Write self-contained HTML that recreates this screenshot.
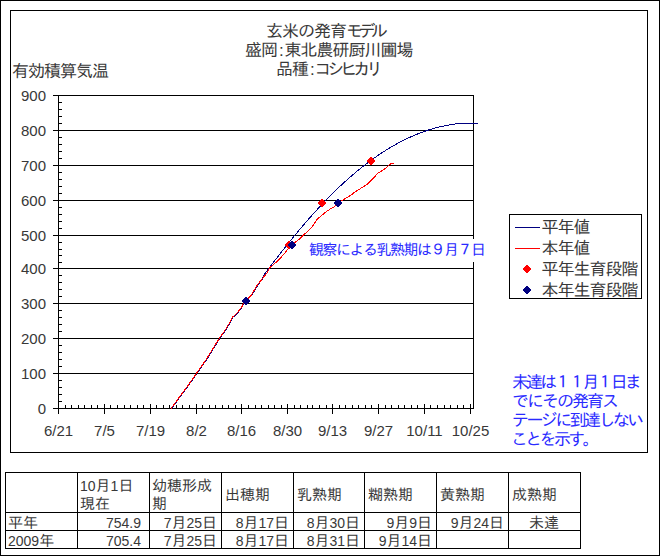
<!DOCTYPE html>
<html><head><meta charset="utf-8"><style>
html,body{margin:0;padding:0;background:#fff;}
body{width:660px;height:556px;position:relative;overflow:hidden;}
svg{position:absolute;left:0;top:0;}
.t{position:absolute;white-space:nowrap;font-family:"Liberation Sans", "IPAGothic", "Noto Sans CJK JP", sans-serif;color:#383838;}
.n{font-family:"Liberation Sans",sans-serif;font-size:14px;}
</style></head><body>
<svg width="660" height="556" viewBox="0 0 660 556">
<rect x="0.5" y="0.5" width="659" height="555" fill="none" stroke="#000"/>
<rect x="10.5" y="10.5" width="637" height="442" fill="none" stroke="#000"/>
<line x1="53" y1="95.5" x2="474" y2="95.5" stroke="#000" stroke-width="1"/>
<line x1="53" y1="130.5" x2="474" y2="130.5" stroke="#000" stroke-width="1"/>
<line x1="53" y1="165.5" x2="474" y2="165.5" stroke="#000" stroke-width="1"/>
<line x1="53" y1="200.5" x2="474" y2="200.5" stroke="#000" stroke-width="1"/>
<line x1="53" y1="235.5" x2="474" y2="235.5" stroke="#000" stroke-width="1"/>
<line x1="53" y1="268.5" x2="474" y2="268.5" stroke="#000" stroke-width="1"/>
<line x1="53" y1="303.5" x2="474" y2="303.5" stroke="#000" stroke-width="1"/>
<line x1="53" y1="338.5" x2="474" y2="338.5" stroke="#000" stroke-width="1"/>
<line x1="53" y1="373.5" x2="474" y2="373.5" stroke="#000" stroke-width="1"/>
<line x1="53" y1="408.5" x2="474" y2="408.5" stroke="#000" stroke-width="1"/>
<line x1="473.5" y1="95" x2="473.5" y2="409" stroke="#000" stroke-width="1"/>
<line x1="58.5" y1="95" x2="58.5" y2="409" stroke="#000" stroke-width="1"/>
<line x1="59" y1="380.5" x2="62" y2="380.5" stroke="#000" stroke-width="1"/>
<line x1="59" y1="387.5" x2="62" y2="387.5" stroke="#000" stroke-width="1"/>
<line x1="59" y1="394.5" x2="62" y2="394.5" stroke="#000" stroke-width="1"/>
<line x1="59" y1="401.5" x2="62" y2="401.5" stroke="#000" stroke-width="1"/>
<line x1="59" y1="345.5" x2="62" y2="345.5" stroke="#000" stroke-width="1"/>
<line x1="59" y1="352.5" x2="62" y2="352.5" stroke="#000" stroke-width="1"/>
<line x1="59" y1="359.5" x2="62" y2="359.5" stroke="#000" stroke-width="1"/>
<line x1="59" y1="366.5" x2="62" y2="366.5" stroke="#000" stroke-width="1"/>
<line x1="59" y1="310.5" x2="62" y2="310.5" stroke="#000" stroke-width="1"/>
<line x1="59" y1="317.5" x2="62" y2="317.5" stroke="#000" stroke-width="1"/>
<line x1="59" y1="324.5" x2="62" y2="324.5" stroke="#000" stroke-width="1"/>
<line x1="59" y1="331.5" x2="62" y2="331.5" stroke="#000" stroke-width="1"/>
<line x1="59" y1="275.5" x2="62" y2="275.5" stroke="#000" stroke-width="1"/>
<line x1="59" y1="282.5" x2="62" y2="282.5" stroke="#000" stroke-width="1"/>
<line x1="59" y1="289.5" x2="62" y2="289.5" stroke="#000" stroke-width="1"/>
<line x1="59" y1="296.5" x2="62" y2="296.5" stroke="#000" stroke-width="1"/>
<line x1="59" y1="242.5" x2="62" y2="242.5" stroke="#000" stroke-width="1"/>
<line x1="59" y1="249.5" x2="62" y2="249.5" stroke="#000" stroke-width="1"/>
<line x1="59" y1="255.5" x2="62" y2="255.5" stroke="#000" stroke-width="1"/>
<line x1="59" y1="262.5" x2="62" y2="262.5" stroke="#000" stroke-width="1"/>
<line x1="59" y1="207.5" x2="62" y2="207.5" stroke="#000" stroke-width="1"/>
<line x1="59" y1="214.5" x2="62" y2="214.5" stroke="#000" stroke-width="1"/>
<line x1="59" y1="221.5" x2="62" y2="221.5" stroke="#000" stroke-width="1"/>
<line x1="59" y1="228.5" x2="62" y2="228.5" stroke="#000" stroke-width="1"/>
<line x1="59" y1="172.5" x2="62" y2="172.5" stroke="#000" stroke-width="1"/>
<line x1="59" y1="179.5" x2="62" y2="179.5" stroke="#000" stroke-width="1"/>
<line x1="59" y1="186.5" x2="62" y2="186.5" stroke="#000" stroke-width="1"/>
<line x1="59" y1="193.5" x2="62" y2="193.5" stroke="#000" stroke-width="1"/>
<line x1="59" y1="137.5" x2="62" y2="137.5" stroke="#000" stroke-width="1"/>
<line x1="59" y1="144.5" x2="62" y2="144.5" stroke="#000" stroke-width="1"/>
<line x1="59" y1="151.5" x2="62" y2="151.5" stroke="#000" stroke-width="1"/>
<line x1="59" y1="158.5" x2="62" y2="158.5" stroke="#000" stroke-width="1"/>
<line x1="59" y1="102.5" x2="62" y2="102.5" stroke="#000" stroke-width="1"/>
<line x1="59" y1="109.5" x2="62" y2="109.5" stroke="#000" stroke-width="1"/>
<line x1="59" y1="116.5" x2="62" y2="116.5" stroke="#000" stroke-width="1"/>
<line x1="59" y1="123.5" x2="62" y2="123.5" stroke="#000" stroke-width="1"/>
<line x1="58.5" y1="404" x2="58.5" y2="414" stroke="#000" stroke-width="1"/>
<line x1="104.5" y1="404" x2="104.5" y2="414" stroke="#000" stroke-width="1"/>
<line x1="150.5" y1="404" x2="150.5" y2="414" stroke="#000" stroke-width="1"/>
<line x1="196.5" y1="404" x2="196.5" y2="414" stroke="#000" stroke-width="1"/>
<line x1="241.5" y1="404" x2="241.5" y2="414" stroke="#000" stroke-width="1"/>
<line x1="287.5" y1="404" x2="287.5" y2="414" stroke="#000" stroke-width="1"/>
<line x1="332.5" y1="404" x2="332.5" y2="414" stroke="#000" stroke-width="1"/>
<line x1="378.5" y1="404" x2="378.5" y2="414" stroke="#000" stroke-width="1"/>
<line x1="424.5" y1="404" x2="424.5" y2="414" stroke="#000" stroke-width="1"/>
<line x1="470.5" y1="404" x2="470.5" y2="414" stroke="#000" stroke-width="1"/>
<line x1="65.5" y1="405" x2="65.5" y2="408" stroke="#000" stroke-width="1"/>
<line x1="71.5" y1="405" x2="71.5" y2="408" stroke="#000" stroke-width="1"/>
<line x1="78.5" y1="405" x2="78.5" y2="408" stroke="#000" stroke-width="1"/>
<line x1="84.5" y1="405" x2="84.5" y2="408" stroke="#000" stroke-width="1"/>
<line x1="91.5" y1="405" x2="91.5" y2="408" stroke="#000" stroke-width="1"/>
<line x1="97.5" y1="405" x2="97.5" y2="408" stroke="#000" stroke-width="1"/>
<line x1="110.5" y1="405" x2="110.5" y2="408" stroke="#000" stroke-width="1"/>
<line x1="117.5" y1="405" x2="117.5" y2="408" stroke="#000" stroke-width="1"/>
<line x1="124.5" y1="405" x2="124.5" y2="408" stroke="#000" stroke-width="1"/>
<line x1="130.5" y1="405" x2="130.5" y2="408" stroke="#000" stroke-width="1"/>
<line x1="137.5" y1="405" x2="137.5" y2="408" stroke="#000" stroke-width="1"/>
<line x1="143.5" y1="405" x2="143.5" y2="408" stroke="#000" stroke-width="1"/>
<line x1="156.5" y1="405" x2="156.5" y2="408" stroke="#000" stroke-width="1"/>
<line x1="163.5" y1="405" x2="163.5" y2="408" stroke="#000" stroke-width="1"/>
<line x1="169.5" y1="405" x2="169.5" y2="408" stroke="#000" stroke-width="1"/>
<line x1="176.5" y1="405" x2="176.5" y2="408" stroke="#000" stroke-width="1"/>
<line x1="182.5" y1="405" x2="182.5" y2="408" stroke="#000" stroke-width="1"/>
<line x1="189.5" y1="405" x2="189.5" y2="408" stroke="#000" stroke-width="1"/>
<line x1="202.5" y1="405" x2="202.5" y2="408" stroke="#000" stroke-width="1"/>
<line x1="209.5" y1="405" x2="209.5" y2="408" stroke="#000" stroke-width="1"/>
<line x1="215.5" y1="405" x2="215.5" y2="408" stroke="#000" stroke-width="1"/>
<line x1="222.5" y1="405" x2="222.5" y2="408" stroke="#000" stroke-width="1"/>
<line x1="228.5" y1="405" x2="228.5" y2="408" stroke="#000" stroke-width="1"/>
<line x1="235.5" y1="405" x2="235.5" y2="408" stroke="#000" stroke-width="1"/>
<line x1="248.5" y1="405" x2="248.5" y2="408" stroke="#000" stroke-width="1"/>
<line x1="255.5" y1="405" x2="255.5" y2="408" stroke="#000" stroke-width="1"/>
<line x1="261.5" y1="405" x2="261.5" y2="408" stroke="#000" stroke-width="1"/>
<line x1="268.5" y1="405" x2="268.5" y2="408" stroke="#000" stroke-width="1"/>
<line x1="274.5" y1="405" x2="274.5" y2="408" stroke="#000" stroke-width="1"/>
<line x1="281.5" y1="405" x2="281.5" y2="408" stroke="#000" stroke-width="1"/>
<line x1="294.5" y1="405" x2="294.5" y2="408" stroke="#000" stroke-width="1"/>
<line x1="300.5" y1="405" x2="300.5" y2="408" stroke="#000" stroke-width="1"/>
<line x1="307.5" y1="405" x2="307.5" y2="408" stroke="#000" stroke-width="1"/>
<line x1="312.5" y1="405" x2="312.5" y2="408" stroke="#000" stroke-width="1"/>
<line x1="319.5" y1="405" x2="319.5" y2="408" stroke="#000" stroke-width="1"/>
<line x1="326.5" y1="405" x2="326.5" y2="408" stroke="#000" stroke-width="1"/>
<line x1="339.5" y1="405" x2="339.5" y2="408" stroke="#000" stroke-width="1"/>
<line x1="345.5" y1="405" x2="345.5" y2="408" stroke="#000" stroke-width="1"/>
<line x1="352.5" y1="405" x2="352.5" y2="408" stroke="#000" stroke-width="1"/>
<line x1="358.5" y1="405" x2="358.5" y2="408" stroke="#000" stroke-width="1"/>
<line x1="365.5" y1="405" x2="365.5" y2="408" stroke="#000" stroke-width="1"/>
<line x1="371.5" y1="405" x2="371.5" y2="408" stroke="#000" stroke-width="1"/>
<line x1="385.5" y1="405" x2="385.5" y2="408" stroke="#000" stroke-width="1"/>
<line x1="391.5" y1="405" x2="391.5" y2="408" stroke="#000" stroke-width="1"/>
<line x1="398.5" y1="405" x2="398.5" y2="408" stroke="#000" stroke-width="1"/>
<line x1="404.5" y1="405" x2="404.5" y2="408" stroke="#000" stroke-width="1"/>
<line x1="411.5" y1="405" x2="411.5" y2="408" stroke="#000" stroke-width="1"/>
<line x1="417.5" y1="405" x2="417.5" y2="408" stroke="#000" stroke-width="1"/>
<line x1="430.5" y1="405" x2="430.5" y2="408" stroke="#000" stroke-width="1"/>
<line x1="437.5" y1="405" x2="437.5" y2="408" stroke="#000" stroke-width="1"/>
<line x1="444.5" y1="405" x2="444.5" y2="408" stroke="#000" stroke-width="1"/>
<line x1="450.5" y1="405" x2="450.5" y2="408" stroke="#000" stroke-width="1"/>
<line x1="457.5" y1="405" x2="457.5" y2="408" stroke="#000" stroke-width="1"/>
<line x1="463.5" y1="405" x2="463.5" y2="408" stroke="#000" stroke-width="1"/>
<polyline points="171.6,408.5 181.8,394.5 192.1,380.5 196.1,374.5 206.7,359.5 213.2,349 219.7,338.5 225.7,330 229.5,323.7 232.8,317.3 235.2,315.4 238.1,312.4 240.3,309.4 242.5,306.5 243.8,303.5 246.5,301 248.8,298.4 252.1,294.7 255.0,289.8 258.0,284.7 261.8,280.1 264.0,274.94 265.0,273.6 266.0,272.26 267.0,270.92 268.0,269.58 269.0,268.25 270.0,266.93 271.0,265.6 272.0,264.28 273.0,262.97 274.0,261.66 275.0,260.35 276.0,259.05 277.0,257.75 278.0,256.45 279.0,255.16 280.0,253.88 281.0,252.6 282.0,251.32 283.0,250.04 284.0,248.78 285.0,247.51 286.0,246.25 287.0,245.0 288.0,243.75 289.0,242.5 290.0,241.26 291.0,240.03 292.0,238.79 293.0,237.57 294.0,236.35 295.0,235.13 296.0,233.92 297.0,232.71 298.0,231.51 299.0,230.32 300.0,229.13 301.0,227.94 302.0,226.76 303.0,225.59 304.0,224.42 305.0,223.25 306.0,222.09 307.0,220.94 308.0,219.79 309.0,218.65 310.0,217.51 311.0,216.38 312.0,215.26 313.0,214.14 314.0,213.03 315.0,211.92 316.0,210.82 317.0,209.72 318.0,208.63 319.0,207.55 320.0,206.47 321.0,205.4 322.0,204.34 323.0,203.28 324.0,202.23 325.0,201.18 326.0,200.14 327.0,199.11 328.0,198.08 329.0,197.06 330.0,196.05 331.0,195.04 332.0,194.04 333.0,193.04 334.0,192.06 335.0,191.08 336.0,190.1 337.0,189.14 338.0,188.18 339.0,187.22 340.0,186.28 341.0,185.34 342.0,184.41 343.0,183.48 344.0,182.56 345.0,181.65 346.0,180.74 347.0,179.85 348.0,178.95 349.0,178.07 350.0,177.19 351.0,176.32 352.0,175.46 353.0,174.6 354.0,173.75 355.0,172.9 356.0,172.07 357.0,171.24 358.0,170.41 359.0,169.6 360.0,168.79 361.0,167.99 362.0,167.19 363.0,166.4 364.0,165.62 365.0,164.85 366.0,164.08 367.0,163.32 368.0,162.56 369.0,161.82 370.0,161.08 371.0,160.34 372.0,159.62 373.0,158.9 374.0,158.18 375.0,157.48 376.0,156.78 377.0,156.09 378.0,155.41 379.0,154.73 380.0,154.06 381.0,153.39 382.0,152.74 383.0,152.09 384.0,151.45 385.0,150.81 386.0,150.18 387.0,149.56 388.0,148.95 389.0,148.34 390.0,147.74 391.0,147.15 392.0,146.56 393.0,145.98 394.0,145.41 395.0,144.84 396.0,144.29 397.0,143.74 398.0,143.19 399.0,142.65 400.0,142.13 401.0,141.6 402.0,141.09 403.0,140.58 404.0,140.08 405.0,139.58 406.0,139.1 407.0,138.62 408.0,138.14 409.0,137.68 410.0,137.22 411.0,136.77 412.0,136.33 413.0,135.89 414.0,135.46 415.0,135.04 416.0,134.62 417.0,134.21 418.0,133.81 419.0,133.42 420.0,133.03 421.0,132.65 422.0,132.28 423.0,131.91 424.0,131.56 425.0,131.21 426.0,130.86 427.0,130.53 428.0,130.2 429.0,129.87 430.0,129.56 431.0,129.25 432.0,128.95 433.0,128.66 434.0,128.37 435.0,128.1 436.0,127.82 437.0,127.56 438.0,127.3 439.0,127.05 440.0,126.81 441.0,126.58 442.0,126.35 443.0,126.13 444.0,125.92 445.0,125.71 446.0,125.51 447.0,125.32 448.0,125.14 449.0,124.96 450.0,124.8 451.0,124.63 452.0,124.48 453.0,124.33 454.0,124.19 455.0,124.06 456.0,123.94 457.0,123.82 458.0,123.71 459.0,123.61 460.0,123.5 461.0,123.42 462.0,123.34 463.0,123.27 464.0,123.2 465.0,123.2 466.0,123.2 467.0,123.2 468.0,123.2 469.0,123.2 470.0,123.2 471.0,123.2 472.0,123.2 473.0,123.2 474.0,123.2 475.0,123.2 476.0,123.2 477.0,123.2 478.0,123.2" fill="none" stroke="#000080" stroke-width="1" stroke-linejoin="round" shape-rendering="crispEdges"/>
<polyline points="171.1,408.5 181.3,394.5 191.6,380.5 195.6,374.5 206.2,359.5 212.7,349 219.2,338.5 225.2,330 229,323.7 232.3,317.3 234.7,315.4 237.6,312.4 239.8,309.4 242,306.5 243.3,303.5 246,301 248.3,298.4 251.6,294.7 254.5,289.8 257.5,284.7 261.3,280.1 264.5,276 267.7,272 269.5,268 273.8,264.4 279.6,259 284.4,253.5 287.7,249.4 292,245.5 295,242.5 299.5,239 303.4,235 306.7,232.4 311,228 313.8,224.5 317.2,219.1 320.1,216.9 325.1,212.6 330.1,209 334.8,206.5 338,203 342,200.4 345.4,198.4 349.2,196.3 351.9,194.4 354.6,192.2 359.4,189.2 366.6,184.7 370.2,181.5 375.6,175.7 377.4,173.4 382.8,170.3 386.4,167.6 389.5,164.4 391.8,163.5 394,163.5" fill="none" stroke="#ff0000" stroke-width="1" stroke-linejoin="round" shape-rendering="crispEdges"/>
<path d="M245,297h2v1h1v1h1v1h1v2h-1v1h-1v1h-1v1h-2v-1h-1v-1h-1v-1h-1v-2h1v-1h1v-1h1z" fill="#ff0000" shape-rendering="crispEdges"/>
<path d="M288,241h2v1h1v1h1v1h1v2h-1v1h-1v1h-1v1h-2v-1h-1v-1h-1v-1h-1v-2h1v-1h1v-1h1z" fill="#ff0000" shape-rendering="crispEdges"/>
<path d="M321,199h2v1h1v1h1v1h1v2h-1v1h-1v1h-1v1h-2v-1h-1v-1h-1v-1h-1v-2h1v-1h1v-1h1z" fill="#ff0000" shape-rendering="crispEdges"/>
<path d="M370,157h2v1h1v1h1v1h1v2h-1v1h-1v1h-1v1h-2v-1h-1v-1h-1v-1h-1v-2h1v-1h1v-1h1z" fill="#ff0000" shape-rendering="crispEdges"/>
<path d="M245,297h2v1h1v1h1v1h1v2h-1v1h-1v1h-1v1h-2v-1h-1v-1h-1v-1h-1v-2h1v-1h1v-1h1z" fill="#000080" shape-rendering="crispEdges"/>
<path d="M291,241h2v1h1v1h1v1h1v2h-1v1h-1v1h-1v1h-2v-1h-1v-1h-1v-1h-1v-2h1v-1h1v-1h1z" fill="#000080" shape-rendering="crispEdges"/>
<path d="M337,199h2v1h1v1h1v1h1v2h-1v1h-1v1h-1v1h-2v-1h-1v-1h-1v-1h-1v-2h1v-1h1v-1h1z" fill="#000080" shape-rendering="crispEdges"/>
<rect x="304" y="239" width="186" height="23" fill="#fff"/>
<rect x="509.5" y="214.5" width="132" height="84" fill="#fff" stroke="#000"/>
<line x1="515" y1="227.5" x2="540" y2="227.5" stroke="#000080" stroke-width="1"/>
<line x1="515" y1="248.5" x2="540" y2="248.5" stroke="#ff0000" stroke-width="1"/>
<path d="M526,265h2v1h1v1h1v1h1v2h-1v1h-1v1h-1v1h-2v-1h-1v-1h-1v-1h-1v-2h1v-1h1v-1h1z" fill="#ff0000" shape-rendering="crispEdges"/>
<path d="M526,286h2v1h1v1h1v1h1v2h-1v1h-1v1h-1v1h-2v-1h-1v-1h-1v-1h-1v-2h1v-1h1v-1h1z" fill="#000080" shape-rendering="crispEdges"/>
<line x1="5" y1="472.5" x2="581" y2="472.5" stroke="#000" stroke-width="1"/>
<line x1="5" y1="512.5" x2="581" y2="512.5" stroke="#000" stroke-width="1"/>
<line x1="5" y1="530.5" x2="581" y2="530.5" stroke="#000" stroke-width="1"/>
<line x1="5" y1="548.5" x2="581" y2="548.5" stroke="#000" stroke-width="1"/>
<line x1="5.5" y1="472" x2="5.5" y2="549" stroke="#000" stroke-width="1"/>
<line x1="77.5" y1="472" x2="77.5" y2="549" stroke="#000" stroke-width="1"/>
<line x1="149.5" y1="472" x2="149.5" y2="549" stroke="#000" stroke-width="1"/>
<line x1="221.5" y1="472" x2="221.5" y2="549" stroke="#000" stroke-width="1"/>
<line x1="293.5" y1="472" x2="293.5" y2="549" stroke="#000" stroke-width="1"/>
<line x1="364.5" y1="472" x2="364.5" y2="549" stroke="#000" stroke-width="1"/>
<line x1="436.5" y1="472" x2="436.5" y2="549" stroke="#000" stroke-width="1"/>
<line x1="508.5" y1="472" x2="508.5" y2="549" stroke="#000" stroke-width="1"/>
<line x1="580.5" y1="472" x2="580.5" y2="549" stroke="#000" stroke-width="1"/>
</svg>
<div id="t1" class="t" style="left:266.00px;top:22.00px;font-size:17px;line-height:20px;letter-spacing:-1px;">玄米の発育<span style="letter-spacing:-4.5px">モデル</span></div>
<div id="t2" class="t" style="left:245.00px;top:41.00px;font-size:17px;line-height:20px;letter-spacing:-1px;">盛岡<span style="margin-left:1.9px;letter-spacing:0.88px">:</span>東北農研厨川圃場</div>
<div id="t3" class="t" style="left:276.00px;top:60.00px;font-size:17px;line-height:20px;letter-spacing:-1px;">品種<span style="margin-left:1.9px;letter-spacing:-0.12px">:</span><span style="letter-spacing:-4.1px">コシヒカリ</span></div>
<div id="yt" class="t" style="left:12.00px;top:62.00px;font-size:17px;line-height:20px;letter-spacing:-1px;">有効積算気温</div>
<div id="y900" class="t" style="left:0.00px;top:86.00px;font-size:15px;line-height:20px;font-family:'Liberation Sans', 'IPAGothic', sans-serif;width:46px;text-align:right;">900</div>
<div id="y800" class="t" style="left:0.00px;top:121.00px;font-size:15px;line-height:20px;font-family:'Liberation Sans', 'IPAGothic', sans-serif;width:46px;text-align:right;">800</div>
<div id="y700" class="t" style="left:0.00px;top:156.00px;font-size:15px;line-height:20px;font-family:'Liberation Sans', 'IPAGothic', sans-serif;width:46px;text-align:right;">700</div>
<div id="y600" class="t" style="left:0.00px;top:191.00px;font-size:15px;line-height:20px;font-family:'Liberation Sans', 'IPAGothic', sans-serif;width:46px;text-align:right;">600</div>
<div id="y500" class="t" style="left:0.00px;top:226.00px;font-size:15px;line-height:20px;font-family:'Liberation Sans', 'IPAGothic', sans-serif;width:46px;text-align:right;">500</div>
<div id="y400" class="t" style="left:0.00px;top:259.00px;font-size:15px;line-height:20px;font-family:'Liberation Sans', 'IPAGothic', sans-serif;width:46px;text-align:right;">400</div>
<div id="y300" class="t" style="left:0.00px;top:294.00px;font-size:15px;line-height:20px;font-family:'Liberation Sans', 'IPAGothic', sans-serif;width:46px;text-align:right;">300</div>
<div id="y200" class="t" style="left:0.00px;top:329.00px;font-size:15px;line-height:20px;font-family:'Liberation Sans', 'IPAGothic', sans-serif;width:46px;text-align:right;">200</div>
<div id="y100" class="t" style="left:0.00px;top:364.00px;font-size:15px;line-height:20px;font-family:'Liberation Sans', 'IPAGothic', sans-serif;width:46px;text-align:right;">100</div>
<div id="y0" class="t" style="left:0.00px;top:399.00px;font-size:15px;line-height:20px;font-family:'Liberation Sans', 'IPAGothic', sans-serif;width:46px;text-align:right;">0</div>
<div id="x0" class="t" style="left:18.00px;top:421.00px;font-size:15px;line-height:20px;font-family:'Liberation Sans', 'IPAGothic', sans-serif;width:81px;text-align:center;">6/21</div>
<div id="x1" class="t" style="left:64.00px;top:421.00px;font-size:15px;line-height:20px;font-family:'Liberation Sans', 'IPAGothic', sans-serif;width:81px;text-align:center;">7/5</div>
<div id="x2" class="t" style="left:110.00px;top:421.00px;font-size:15px;line-height:20px;font-family:'Liberation Sans', 'IPAGothic', sans-serif;width:81px;text-align:center;">7/19</div>
<div id="x3" class="t" style="left:156.00px;top:421.00px;font-size:15px;line-height:20px;font-family:'Liberation Sans', 'IPAGothic', sans-serif;width:81px;text-align:center;">8/2</div>
<div id="x4" class="t" style="left:201.00px;top:421.00px;font-size:15px;line-height:20px;font-family:'Liberation Sans', 'IPAGothic', sans-serif;width:81px;text-align:center;">8/16</div>
<div id="x5" class="t" style="left:247.00px;top:421.00px;font-size:15px;line-height:20px;font-family:'Liberation Sans', 'IPAGothic', sans-serif;width:81px;text-align:center;">8/30</div>
<div id="x6" class="t" style="left:292.00px;top:421.00px;font-size:15px;line-height:20px;font-family:'Liberation Sans', 'IPAGothic', sans-serif;width:81px;text-align:center;">9/13</div>
<div id="x7" class="t" style="left:338.00px;top:421.00px;font-size:15px;line-height:20px;font-family:'Liberation Sans', 'IPAGothic', sans-serif;width:81px;text-align:center;">9/27</div>
<div id="x8" class="t" style="left:384.00px;top:421.00px;font-size:15px;line-height:20px;font-family:'Liberation Sans', 'IPAGothic', sans-serif;width:81px;text-align:center;">10/11</div>
<div id="x9" class="t" style="left:430.00px;top:421.00px;font-size:15px;line-height:20px;font-family:'Liberation Sans', 'IPAGothic', sans-serif;width:81px;text-align:center;">10/25</div>
<div id="lg0" class="t" style="left:541.50px;top:218.00px;font-size:17px;line-height:20px;letter-spacing:-1px;">平年値</div>
<div id="lg1" class="t" style="left:541.50px;top:239.00px;font-size:17px;line-height:20px;letter-spacing:-1px;">本年値</div>
<div id="lg2" class="t" style="left:541.50px;top:260.00px;font-size:17px;line-height:20px;letter-spacing:-1px;">平年生育段階</div>
<div id="lg3" class="t" style="left:541.50px;top:281.00px;font-size:17px;line-height:20px;letter-spacing:-1px;">本年生育段階</div>
<div id="a1" class="t" style="left:309.00px;top:240.00px;font-size:15px;line-height:20px;color:#2a2aff;letter-spacing:-1.5px;">観察による乳熟期は９月７日</div>
<div id="a20" class="t" style="left:512.00px;top:373.00px;font-size:17px;line-height:19px;color:#2a2aff;letter-spacing:-2.9px;">未達は１１月１日ま</div>
<div id="a21" class="t" style="left:512.00px;top:392.00px;font-size:17px;line-height:19px;color:#2a2aff;letter-spacing:-2px;">でにその発育ス</div>
<div id="a22" class="t" style="left:512.00px;top:411.00px;font-size:17px;line-height:19px;color:#2a2aff;letter-spacing:-2.6px;">テージに到達しない</div>
<div id="a23" class="t" style="left:511.00px;top:430.00px;font-size:17px;line-height:19px;color:#2a2aff;letter-spacing:-2.7px;">ことを示す。</div>
<div id="r1" class="t" style="left:8.00px;top:513.00px;font-size:15px;line-height:20px;">平年</div>
<div id="r2" class="t" style="left:8.00px;top:531.00px;font-size:15px;line-height:20px;"><span class="n">2009</span>年</div>
<div id="h1" class="t" style="left:80.00px;top:477.00px;font-size:15px;line-height:18px;"><span class="n">10</span>月<span class="n">1</span>日<br>現在</div>
<div id="h2" class="t" style="left:152.00px;top:477.00px;font-size:15px;line-height:18px;">幼穂形成<br>期</div>
<div id="h3" class="t" style="left:225.00px;top:485.00px;font-size:15px;line-height:20px;">出穂期</div>
<div id="h4" class="t" style="left:297.00px;top:485.00px;font-size:15px;line-height:20px;">乳熟期</div>
<div id="h5" class="t" style="left:368.00px;top:485.00px;font-size:15px;line-height:20px;">糊熟期</div>
<div id="h6" class="t" style="left:440.00px;top:485.00px;font-size:15px;line-height:20px;">黄熟期</div>
<div id="h7" class="t" style="left:512.00px;top:485.00px;font-size:15px;line-height:20px;">成熟期</div>
<div id="d10" class="t" style="left:77.00px;top:513.00px;font-size:15px;line-height:20px;width:64px;text-align:right;"><span class="n">754.9</span></div>
<div id="d11" class="t" style="left:149.00px;top:513.00px;font-size:15px;line-height:20px;width:68px;text-align:right;"><span class="n">7</span>月<span class="n">25</span>日</div>
<div id="d12" class="t" style="left:221.00px;top:513.00px;font-size:15px;line-height:20px;width:68px;text-align:right;"><span class="n">8</span>月<span class="n">17</span>日</div>
<div id="d13" class="t" style="left:293.00px;top:513.00px;font-size:15px;line-height:20px;width:67px;text-align:right;"><span class="n">8</span>月<span class="n">30</span>日</div>
<div id="d14" class="t" style="left:364.00px;top:513.00px;font-size:15px;line-height:20px;width:68px;text-align:right;"><span class="n">9</span>月<span class="n">9</span>日</div>
<div id="d15" class="t" style="left:436.00px;top:513.00px;font-size:15px;line-height:20px;width:68px;text-align:right;"><span class="n">9</span>月<span class="n">24</span>日</div>
<div id="d20" class="t" style="left:77.00px;top:531.00px;font-size:15px;line-height:20px;width:64px;text-align:right;"><span class="n">705.4</span></div>
<div id="d21" class="t" style="left:149.00px;top:531.00px;font-size:15px;line-height:20px;width:68px;text-align:right;"><span class="n">7</span>月<span class="n">25</span>日</div>
<div id="d22" class="t" style="left:221.00px;top:531.00px;font-size:15px;line-height:20px;width:68px;text-align:right;"><span class="n">8</span>月<span class="n">17</span>日</div>
<div id="d23" class="t" style="left:293.00px;top:531.00px;font-size:15px;line-height:20px;width:67px;text-align:right;"><span class="n">8</span>月<span class="n">31</span>日</div>
<div id="d24" class="t" style="left:364.00px;top:531.00px;font-size:15px;line-height:20px;width:68px;text-align:right;"><span class="n">9</span>月<span class="n">14</span>日</div>
<div id="d16" class="t" style="left:508.00px;top:513.00px;font-size:15px;line-height:20px;width:72px;text-align:center;">未達</div>
</body></html>
